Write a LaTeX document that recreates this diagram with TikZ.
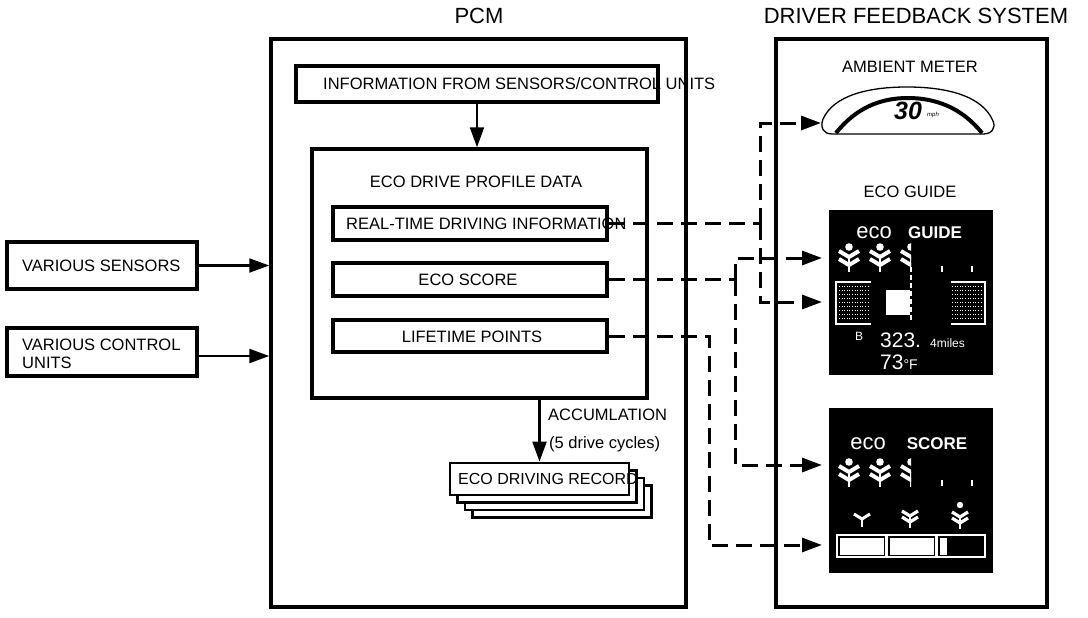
\documentclass[tikz,border=0pt]{standalone}
\usepackage{fontspec}
\setmainfont{Liberation Sans}
\usetikzlibrary{arrows.meta}
\newcommand\setfs[1]{\fontsize{#1}{#1}\selectfont}
\begin{document}
\begin{tikzpicture}[x=1pt,y=-1pt,
 frame/.style={draw, line width=3.5pt, inner sep=0pt},
 box/.style={draw, line width=3.5pt, inner sep=0pt, fill=white},
 lbl/.style={inner sep=0pt, font=\setfs{16.5}},
 conn/.style={line width=2.2pt, -{Triangle[length=20pt,width=14pt]}},
 dline/.style={line width=3pt, dash pattern=on 16pt off 8pt},
 dconn/.style={dline, -{Triangle[length=20pt,width=14pt]}},
 wtxt/.style={inner sep=0pt, text=white},
 screen/.style={fill=black, inner sep=0pt, minimum width=164pt, minimum height=165pt},
 wl/.style={white, line width=1.2pt},
 plant/.pic={
  \fill[white] (0,0) circle (3.8);
  \draw[white, line width=4pt] (-10,4) -- (0,10) -- (10,4);
  \draw[white, line width=4pt] (-10,12) -- (0,18) -- (10,12);
  \draw[white, line width=1.4pt] (0,10) -- (0,25);
 },
 leaves/.pic={
  \draw[white, line width=3.2pt] (-8,4) -- (0,9) -- (8,4);
  \draw[white, line width=3.2pt] (-8,10) -- (0,15) -- (8,10);
  \draw[white, line width=1.3pt] (0,9) -- (0,21);
 },
]
\useasboundingbox (0,0) rectangle (1088,618);
\fill[white] (0,0) rectangle (1088,618);

% titles and frames
\node[lbl, font=\setfs{22}] (tpcm) at (479,16) {PCM};
\node[lbl, font=\setfs{22}] (tdfs) at (916,16) {DRIVER FEEDBACK SYSTEM};
\node[frame, minimum width=415pt, minimum height=568pt] (pcm) at (478.5,323) {};
\node[frame, minimum width=271pt, minimum height=568pt] (dfs) at (911.5,323) {};

% PCM content
\node[box, minimum width=362pt, minimum height=36pt] (info) at (477,84) {};
\node[lbl, anchor=west] (infot) at (323,84) {INFORMATION FROM SENSORS/CONTROL UNITS};
\node[box, minimum width=335pt, minimum height=249pt] (prof) at (479.5,273.5) {};
\node[lbl] (proft) at (476,182) {ECO DRIVE PROFILE DATA};
\node[box, minimum width=274pt, minimum height=33pt] (rt) at (470,223.5) {};
\node[lbl, anchor=west] (rtt) at (346,223.5) {REAL-TIME DRIVING INFORMATION};
\node[box, minimum width=274pt, minimum height=33pt] (es) at (470,279.5) {};
\node[lbl] (est) at (468,280) {ECO SCORE};
\node[box, minimum width=274pt, minimum height=32pt] (lt) at (470,336) {};
\node[lbl] (ltt) at (472,337) {LIFETIME POINTS};
\draw[conn] (info.south) -- (info.south |- prof.north);

% records stack
\foreach \k in {3,2,1}
  \node[box, line width=2.8pt, minimum width=179pt, minimum height=32pt] (rec\k) at ({539.5+7.5*\k},{479+7.5*\k}) {};
\node[box, line width=2.8pt, minimum width=179pt, minimum height=32pt] (rec0) at (539.5,479) {};
\node[lbl, anchor=west, font=\setfs{16}] (rect) at (458,479) {ECO DRIVING RECORD};
\draw[conn] (prof.south -| rec0.north) -- (rec0.north);
\node[lbl, anchor=west] (acc) at (548,415) {ACCUMLATION};
\node[lbl, anchor=west] (cyc) at (549,444) {(5 drive cycles)};

% left inputs
\node[box, minimum width=190pt, minimum height=47pt] (vs) at (102,265.5) {};
\node[lbl, anchor=west] (vst) at (22,265.5) {VARIOUS SENSORS};
\node[box, minimum width=190pt, minimum height=48pt] (vc) at (102,352) {};
\node[lbl, anchor=west, align=left, font=\fontsize{16.5}{18}\selectfont] (vct) at (22,354) {VARIOUS CONTROL\\UNITS};
\draw[conn] (vs.east) -- (vs.east -| pcm.west);
\draw[conn] ([yshift=-4pt]vc.east) -- ([yshift=-4pt]vc.east -| pcm.west);

% ambient meter
\node[lbl] (tam) at (910,67) {AMBIENT METER};
\draw[line width=1.3pt] (832,134) -- (983,134) .. controls (992,134) and (996,128) .. (993,121)
  .. controls (982,95) and (945,87) .. (907,87) .. controls (869,87) and (834,95) .. (823,119)
  .. controls (820,127) and (823,134) .. (832,134) -- cycle;
\draw[line width=4pt] (836,133) .. controls (856,108) and (880,98) .. (908,98)
  .. controls (936,98) and (962,108) .. (982,133);
\node[inner sep=0pt, font=\setfs{25}\bfseries\itshape] (spd) at (908,111) {30};
\node[inner sep=0pt, font=\setfs{6}\itshape] (mph) at (933,115) {mph};
\coordinate (meterL) at (821,123);

% eco guide screen
\node[lbl] (tguide) at (910,192) {ECO GUIDE};
\node[screen] (guide) at (911,292.5) {};
\node[wtxt, font=\setfs{22}, anchor=base] (g1) at (874,238) {eco};
\node[wtxt, font=\setfs{17}\bfseries, anchor=base] (g2) at (935,238) {GUIDE};
\pic at (849,247) {plant};
\pic at (880,247) {plant};
\begin{scope}
  \clip (897,235) rectangle (911,275);
  \pic at (911,247) {plant};
\end{scope}
\draw[wl] (942,266) -- (942,272);
\draw[wl] (972,266) -- (972,272);
\draw[white, line width=1.5pt, dash pattern=on 5pt off 3pt] (911,267) -- (911,322);
\draw[wl] (871,282) -- (836,282) -- (836,324) -- (871,324);
\draw[wl] (951,282) -- (985,282) -- (985,324) -- (951,324);
\foreach \yy in {286,290,...,320} {
  \draw[white, line width=0.8pt, dash pattern=on 1pt off 1.6pt] (839,\yy) -- (870,\yy);
  \draw[white, line width=0.8pt, dash pattern=on 1pt off 1.6pt] (952,\yy) -- (982,\yy);
}
\fill[white] (886,290) rectangle (910,315);
\node[wtxt, font=\setfs{12}, anchor=base] (gb) at (859,340) {B};
\node[wtxt, font=\setfs{21}, anchor=base west] (gd) at (880,347) {323.};
\node[wtxt, font=\setfs{12}, anchor=base west] (gm) at (930,347) {4miles};
\node[wtxt, anchor=base west] (gt) at (880,369) {\setfs{21}73\setfs{14}°F};

% eco score screen
\node[screen] (score) at (911,490.5) {};
\node[wtxt, font=\setfs{22}, anchor=base] (s1) at (868,449) {eco};
\node[wtxt, font=\setfs{17}\bfseries, anchor=base] (s2) at (937,449) {SCORE};
\pic at (849,462) {plant};
\pic at (880,462) {plant};
\begin{scope}
  \clip (897,452) rectangle (911,492);
  \pic at (911,462) {plant};
\end{scope}
\draw[wl] (942,480) -- (942,486);
\draw[wl] (972,480) -- (972,486);
\draw[white, line width=3pt] (854,514) -- (862,519) -- (870,514);
\draw[wl] (862,519) -- (862,527);
\pic at (910,507) {leaves};
\begin{scope}[shift={(960,505)}]
  \fill[white] (0,0) circle (3.2);
  \pic at (0,3) {leaves};
\end{scope}
\draw[wl] (837,535) rectangle (886,557);
\fill[white] (839.5,537.5) rectangle (883.5,554.5);
\draw[wl] (887,535) rectangle (936,557);
\fill[white] (889.5,537.5) rectangle (933.5,554.5);
\draw[wl] (937,535) rectangle (985,557);
\fill[white] (939.5,537.5) rectangle (947,554.5);

% dashed feedback connectors
\coordinate (gpl) at (822,258);
\coordinate (gsq) at (822,302);
\coordinate (spl) at (822,465);
\coordinate (sbar) at (822,545);
\coordinate (rtj) at (760,223.5);
\coordinate (esj) at (735,279.5);
\coordinate (ltj) at (709,545);
\draw[dline] (rt.east) -- (rtj);
\draw[dconn] (rtj) |- (meterL);
\draw[dconn] (rtj) |- (gsq);
\draw[dline] (es.east) -- (esj);
\draw[dconn] (esj) |- (gpl);
\draw[dconn] (esj) |- (spl);
\draw[dconn] (lt.east) -| (ltj) -- (sbar);
\end{tikzpicture}
\end{document}
